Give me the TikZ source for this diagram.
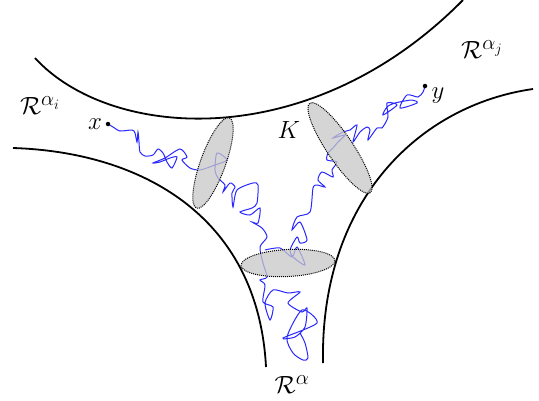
\documentclass[tikz,border=0pt]{standalone}
\usepackage{amsmath}
\begin{document}
\begin{tikzpicture}[x=1pt,y=-1pt,
  boundary/.style={line width=1.8pt},
  walk/.style={draw={rgb,255:red,40;green,40;blue,255},line width=1pt},
  capell/.style={fill=black!22,fill opacity=0.75,draw=black,densely dotted,line width=1pt},
  lbl/.style={font=\fontsize{28}{32}\selectfont,inner sep=0pt},
  pt/.style={circle,fill=black,inner sep=0pt,minimum size=4.5pt}]
\useasboundingbox (0,0) rectangle (539,400);
% boundaries
\draw[boundary] (35,58) .. controls (110,140) and (310,155) .. (463,0);
\draw[boundary] (13,148) .. controls (140,152) and (258,215) .. (266,367);
\draw[boundary] (533,89) .. controls (420,105) and (320,200) .. (323,363);
% random walks
\draw[walk] plot[smooth,tension=0.45] coordinates {(108,124) (113,127) (120,131) (132,130) (135,133) (137,142) (138,132) (139,142) (140,152) (145,156) (153,155) (158,149) (163,153) (167,162) (172,168) (177,157) (170,158) (160,162) (153,163) (165,158) (180,149) (187,157) (182,160) (190,168) (200,170) (215,165) (227,160) (217,153) (215,170) (218,178) (225,185) (223,192) (230,183) (235,187) (232,193) (233,207) (237,190) (253,183) (258,185) (257,203) (252,208) (240,212) (250,215) (260,208) (258,223) (252,222) (262,228) (267,237) (260,247) (263,263) (267,277) (260,280) (265,285) (263,302) (273,307) (270,320) (265,303) (273,290) (288,293) (300,292) (288,303) (302,312) (307,308) (305,327) (295,337) (283,338) (317,323) (302,310) (287,337) (293,353) (303,360) (308,358) (305,343) (300,333)};
\draw[walk] plot[smooth,tension=0.45] coordinates {(425,86) (423,92) (418,97) (407,95) (400,108) (417,103) (412,100) (395,103) (387,107) (383,115) (397,105) (387,103) (388,117) (382,128) (377,128) (368,140) (370,130) (367,127) (360,132) (353,142) (357,125) (350,130) (343,132) (333,138) (345,135) (338,142) (333,148) (328,153) (327,160) (337,162) (332,170) (333,177) (322,172) (318,180) (325,187) (317,185) (313,188) (310,212) (297,217) (292,230) (300,222) (307,240) (300,243) (297,237) (290,250) (293,257) (305,265) (297,247) (292,257) (280,248) (265,250)};
% caps
\draw[capell] (213,163) ellipse [x radius=48, y radius=12.5, rotate=70];
\draw[capell] (340,148) ellipse [x radius=54, y radius=13, rotate=-56];
\draw[capell] (288,263) ellipse [x radius=47, y radius=13.5, rotate=3];
% points
\node[pt] (xp) at (108,124) {};
\node[pt] (yp) at (425,86) {};
% labels
\node[lbl] (xl) at (95,124) {$x$};
\node[lbl] (yl) at (438,96) {$y$};
\node[lbl] (K) at (289,130) {$K$};
\node[lbl] (Ri) at (40,106) {$\mathcal{R}^{\alpha_i}$};
\node[lbl] (Rj) at (482,50) {$\mathcal{R}^{\alpha_j}$};
\node[lbl] (R) at (292,385) {$\mathcal{R}^{\alpha}$};
\end{tikzpicture}
\end{document}
